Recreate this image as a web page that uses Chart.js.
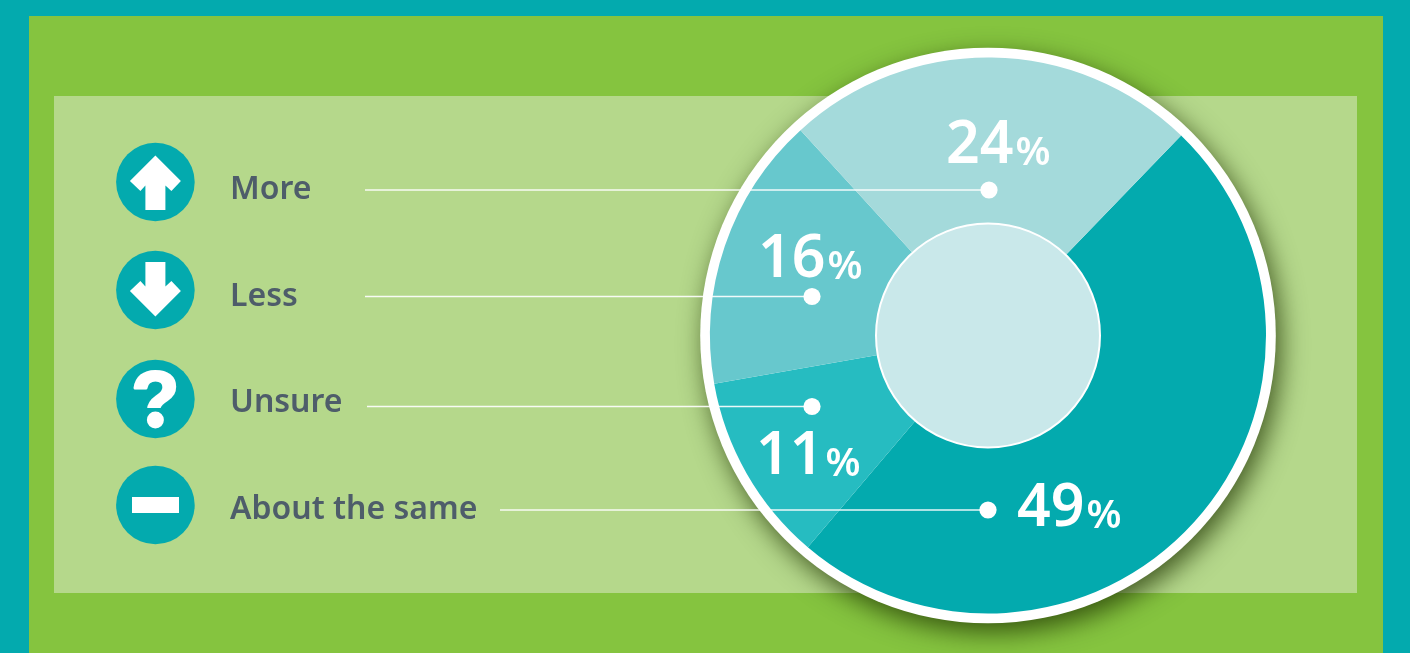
<!DOCTYPE html>
<html>
<head>
<meta charset="utf-8">
<title>More, less or about the same</title>
<script src="https://cdn.jsdelivr.net/npm/chart.js@4"></script>
<style>
  html, body { margin: 0; padding: 0; width: 1410px; height: 653px; overflow: hidden; background: #03aaae; }
  .field { position: absolute; left: 29px; top: 16px; width: 1354px; height: 637px; background: #85c43f; }
  .panel { position: absolute; left: 54px; top: 96px; width: 1303px; height: 497px; background: #b5d88b; }
  canvas { position: absolute; left: 0; top: 0; }
  svg { position: absolute; left: 0; top: 0; }
  text { font-family: "Noto Sans", sans-serif; }
  .name { font-size: 32px; font-weight: 600; fill: #4e5d6a; }
  .pct { font-size: 59px; font-weight: 600; fill: #fff; }
  .pct tspan { font-size: 40px; }
</style>
</head>
<body>
<div class="field"></div>
<div class="panel"></div>
<canvas id="pie" width="1410" height="653"></canvas>
<svg id="overlay" width="1410" height="653" xmlns="http://www.w3.org/2000/svg"></svg>
<script>
// clockwise from the upper right
const categories = ["About the same", "Unsure", "Less", "More"];
const values = [49, 11, 16, 24];
const colors = ["#03aaae", "#26bcc1", "#67c8cd", "#a4dadb"];

// legend rows, same order as categories
const rowY = [505, 399, 290, 182];
const nameBaseline = [519, 412, 306, 199];
const leaderY = [510, 406.5, 296.5, 190];
const leaderFrom = [500, 367, 365, 365];
const dotX = [988, 812, 812, 989];
const pctX = [1017, 756, 758, 946];
const pctBaseline = [526, 474, 277, 163];

const ringWidth = 9.8;

// white rim with its drop shadow, plus the pale disc in the hole
const rimPlugin = {
    id: "rim",
    beforeDatasetsDraw(chart) {
        const arc = chart.getDatasetMeta(0).data[0];
        const ctx = chart.ctx;
        ctx.save();
        ctx.shadowColor = "rgba(30, 50, 0, 0.75)";
        ctx.shadowBlur = 26;
        ctx.shadowOffsetX = 5;
        ctx.shadowOffsetY = 9;
        ctx.fillStyle = "#fff";
        ctx.beginPath();
        ctx.arc(arc.x, arc.y, arc.outerRadius + ringWidth, 0, Math.PI * 2);
        ctx.fill();
        ctx.restore();
    },
    afterDatasetsDraw(chart) {
        const arc = chart.getDatasetMeta(0).data[0];
        const ctx = chart.ctx;
        ctx.save();
        ctx.fillStyle = "#c9e8ea";
        ctx.strokeStyle = "#fff";
        ctx.lineWidth = 2;
        ctx.beginPath();
        ctx.arc(arc.x, arc.y, arc.innerRadius, 0, Math.PI * 2);
        ctx.fill();
        ctx.stroke();
        ctx.restore();
    },
};

new Chart(document.getElementById("pie"), {
    type: "doughnut",
    data: {
        labels: categories,
        datasets: [{ data: values, backgroundColor: colors, borderWidth: 0, hoverOffset: 0 }],
    },
    options: {
        responsive: false,
        animation: false,
        rotation: 44,
        cutout: 112,
        layout: { padding: { left: 710, right: 144, top: 57.5, bottom: 39.5 } },
        plugins: { legend: { display: false }, tooltip: { enabled: false } },
    },
    plugins: [rimPlugin],
});

// legend, leader lines and percentages on top of the chart
const NS = "http://www.w3.org/2000/svg";
const overlay = document.getElementById("overlay");

function add(tag, attrs, parent = overlay) {
    const el = document.createElementNS(NS, tag);
    for (const k in attrs) el.setAttribute(k, attrs[k]);
    parent.appendChild(el);
    return el;
}

// white glyph inside each icon circle
function drawGlyph(name, y) {
    const x = 155.4;
    const pts = list => list.map(p => (x + p[0]) + "," + (y + p[1])).join(" ");
    if (name === "More") {
        add("polygon", { fill: "#fff", points: pts([[0, -26.5], [25.5, -1], [16, 9], [10, 3.5], [10, 28], [-10, 28], [-10, 3.5], [-15, 9], [-25.5, -1]]) });
    } else if (name === "Less") {
        add("polygon", { fill: "#fff", points: pts([[0, 26.5], [25.5, 1], [16, -9], [10, -3.5], [10, -28], [-10, -28], [-10, -3.5], [-15, -9], [-25.5, 1]]) });
    } else if (name === "Unsure") {
        const q = add("text", { x: x, y: y + 27, "text-anchor": "middle", fill: "#fff", stroke: "#fff", "stroke-width": 3, "stroke-linejoin": "round", style: "font-family:'Liberation Sans';font-weight:700;font-size:78px" });
        q.textContent = "?";
        // swap the font's square dot for a round one
        add("rect", { x: x - 14, y: y + 9, width: 28, height: 22, fill: "#03aaae" });
        add("circle", { cx: x, cy: y + 21, r: 8.5, fill: "#fff" });
    } else {
        add("rect", { x: 132, y: y - 8, width: 47, height: 16, fill: "#fff" });
    }
}

categories.forEach((name, i) => {
    add("circle", { cx: 155.4, cy: rowY[i], r: 39.3, fill: "#03aaae" });
    drawGlyph(name, rowY[i]);

    add("text", { x: 230, y: nameBaseline[i], class: "name" }).textContent = name;

    add("line", { x1: leaderFrom[i], x2: dotX[i], y1: leaderY[i], y2: leaderY[i], stroke: "#fff", "stroke-width": 1.5, "stroke-opacity": 0.9 });
    add("circle", { cx: dotX[i], cy: leaderY[i], r: 8.6, fill: "#fff" });

    const pct = add("text", { x: pctX[i], y: pctBaseline[i], class: "pct" });
    pct.appendChild(document.createTextNode(values[i]));
    add("tspan", { dx: 2, dy: 2 }, pct).textContent = "%";
});
</script>
</body>
</html>
